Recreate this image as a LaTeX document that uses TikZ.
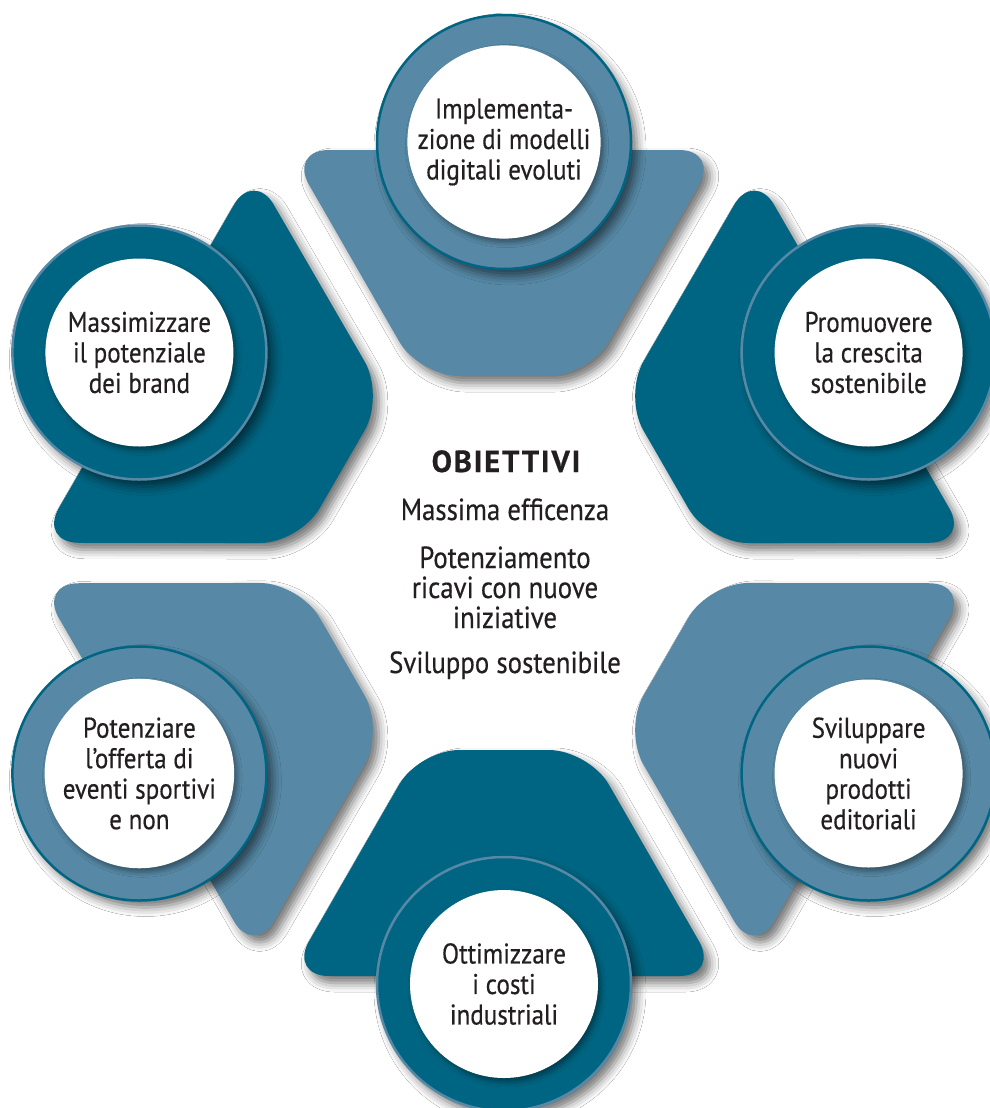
\documentclass[tikz,border=0pt]{standalone}
\usepackage{fontspec}
\setmainfont[FakeStretch=0.88,FakeBold=0.4]{PT Sans}
\newfontfamily\headfont[LetterSpace=6,FakeBold=0.6]{PT Sans}
\usetikzlibrary{shadows.blur}
\definecolor{darkteal}{RGB}{0,101,130}
\definecolor{lightteal}{RGB}{87,137,166}
\definecolor{ink}{RGB}{35,31,32}
\tikzset{
  shp/.style={rounded corners=40pt,
    blur shadow={shadow xshift=6pt, shadow yshift=-7pt, shadow blur radius=9pt, shadow opacity=55}},
  ring/.style={circle, minimum size=254pt, inner sep=0pt, line width=2.5pt,
    blur shadow={shadow xshift=6pt, shadow yshift=-7pt, shadow blur radius=9pt, shadow opacity=55}},
  lightring/.style={ring, fill=lightteal, draw=darkteal},
  darkring/.style={ring, fill=darkteal, draw=lightteal},
  disc/.style={circle, minimum size=188pt, inner sep=0pt, fill=white, text=ink,
    align=center, font=\fontsize{28.5}{30.5}\selectfont,
    blur shadow={shadow xshift=3pt, shadow yshift=-4pt, shadow blur radius=5pt, shadow opacity=40}},
  ctext/.style={anchor=base, text=ink, inner sep=0pt, font=\fontsize{30.5}{30}\selectfont},
}
\begin{document}
\begin{tikzpicture}[x=1pt,y=-1pt]
\useasboundingbox (0,0) rectangle (989,1108);
\fill[white] (0,0) rectangle (989,1108);
\coordinate (C) at (504,563);
% six rounded trapezoids
\foreach \a/\c in {0/lightteal,60/darkteal,120/lightteal,180/darkteal,240/lightteal,300/darkteal}{
  \fill[shp, fill=\c]
    ([rotate around={\a:(C)}]289,150) -- ([rotate around={\a:(C)}]719,150) --
    ([rotate around={\a:(C)}]589,376) -- ([rotate around={\a:(C)}]419,376) -- cycle;
}
% circles
\node[lightring] (ringT) at (504,142) {};
\node[disc] (T) at (504,142) {Implementa-\\zione di modelli\\digitali evoluti};
\node[darkring] (ringUL) at (139.4,352.5) {};
\node[disc] (UL) at (139.4,352.5) {Massimizzare\\il potenziale\\dei brand};
\node[darkring] (ringUR) at (868.6,352.5) {};
\node[disc] (UR) at (868.6,352.5) {Promuovere\\la crescita\\sostenibile};
\node[lightring] (ringLL) at (139.4,773.5) {};
\node[disc] (LL) at (139.4,773.5) {Potenziare\\l’offerta di\\eventi sportivi\\e non};
\node[lightring] (ringLR) at (868.6,773.5) {};
\node[disc] (LR) at (868.6,773.5) {Sviluppare\\nuovi\\prodotti\\editoriali};
\node[darkring] (ringB) at (504,984) {};
\node[disc] (B) at (504,984) {Ottimizzare\\i costi\\industriali};
% central text
\node[ctext, font=\headfont\bfseries\fontsize{30.5}{30}\selectfont] (h) at (506,472) {OBIETTIVI};
\node[ctext] (c1) at (505,520) {Massima efficenza};
\node[ctext] (c2) at (505,568) {Potenziamento};
\node[ctext] (c3) at (505,598) {ricavi con nuove};
\node[ctext] (c4) at (505,628) {iniziative};
\node[ctext] (c5) at (505,673) {Sviluppo sostenibile};
\end{tikzpicture}
\end{document}
